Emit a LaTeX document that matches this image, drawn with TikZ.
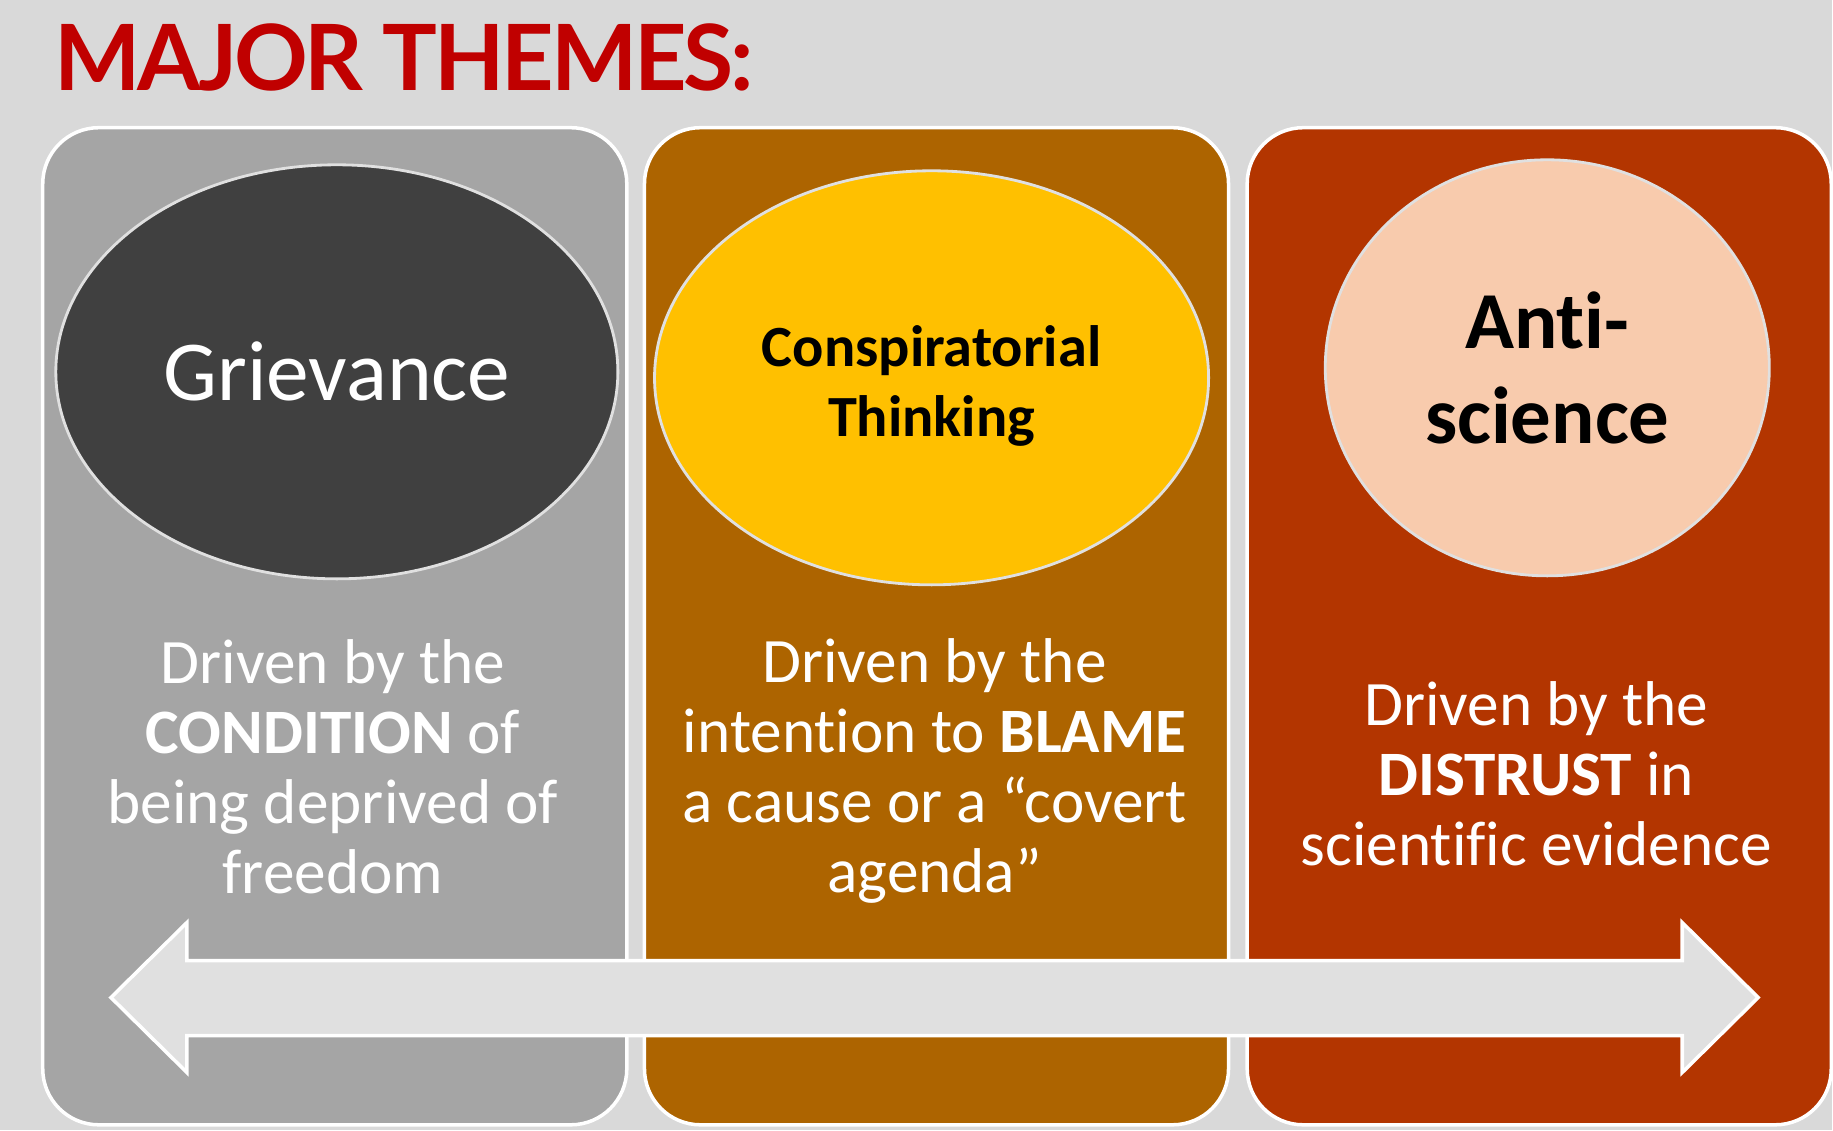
\documentclass[tikz,border=0pt]{standalone}
\usepackage{fontspec}
\usepackage{tikz}
\usetikzlibrary{shapes.geometric}
\setmainfont{Carlito}[Ligatures=NoCommon]
\newfontfamily\titlefont{Lato}[LetterSpace=-3.5]

\definecolor{bgGray}{HTML}{D9D9D9}
\definecolor{titleRed}{HTML}{C00000}
\definecolor{boxGray}{HTML}{A5A5A5}
\definecolor{boxBrown}{HTML}{AD6400}
\definecolor{boxRust}{HTML}{B33500}
\definecolor{ovalDark}{HTML}{404040}
\definecolor{ovalGold}{HTML}{FFC000}
\definecolor{ovalPeach}{HTML}{F8CBAD}
\definecolor{arrowGray}{HTML}{E0E0E0}

\begin{document}
\begin{tikzpicture}[x=0.01cm,y=-0.01cm,
    panel/.style={rectangle,draw=white,line width=1pt,rounded corners=0.56cm,
        minimum width=5.84cm,minimum height=9.97cm,inner sep=0pt,anchor=north west},
    oval/.style={ellipse,draw=arrowGray,line width=0.8pt,inner sep=0pt},
    drv/.style={text=white,align=center,inner sep=0pt,
        font=\fontsize{18pt}{19.9pt}\selectfont}]
    \fill[bgGray] (0,0) rectangle (1833,1131);
    \node[anchor=base west,text=titleRed,inner sep=0pt,
        font=\titlefont\bfseries\fontsize{26pt}{30pt}\selectfont] (title) at (54,91) {MAJOR THEMES:};
    % three columns
    \node[panel,fill=boxGray] (colA) at (41,126) {};
    \node[panel,fill=boxBrown] (colB) at (643,126) {};
    \node[panel,fill=boxRust] (colC) at (1246,126) {};
    \node[oval,fill=ovalDark,minimum width=5.62cm,minimum height=4.14cm,text=white,
        font=\fontsize{24.3pt}{30pt}\selectfont] (grievance) at (337,372) {Grievance};
    \node[oval,fill=ovalGold,minimum width=5.54cm,minimum height=4.14cm,align=center,
        font=\bfseries\fontsize{16.6pt}{19.9pt}\selectfont] (conspiracy) at (932,378) {\rule{0pt}{16.5pt}Conspiratorial\\Thinking};
    \node[oval,fill=ovalPeach,minimum width=4.44cm,minimum height=4.16cm,align=center,
        font=\bfseries\fontsize{23pt}{27pt}\selectfont] (antiscience) at (1548,368) {Anti-\\science};
    \node[drv] (drvA) at (333,767) {Driven by the\\\textbf{CONDITION} of\\being deprived of\\freedom};
    \node[drv] (drvB) at (935,771) {Driven by the\\intention to \textbf{BLAME}\\a cause or a “covert\\agenda”};
    \node[drv] (drvC) at (1537,774) {Driven by the\\\textbf{DISTRUST} in\\scientific evidence};
    % double arrow
    \draw[white,line width=1pt,fill=arrowGray,line join=miter]
        (111,998) -- (187,923) -- (187,961) -- (1683,961) -- (1683,923) -- (1759,998)
        -- (1683,1073) -- (1683,1036) -- (187,1036) -- (187,1073) -- cycle;
\end{tikzpicture}
\end{document}
